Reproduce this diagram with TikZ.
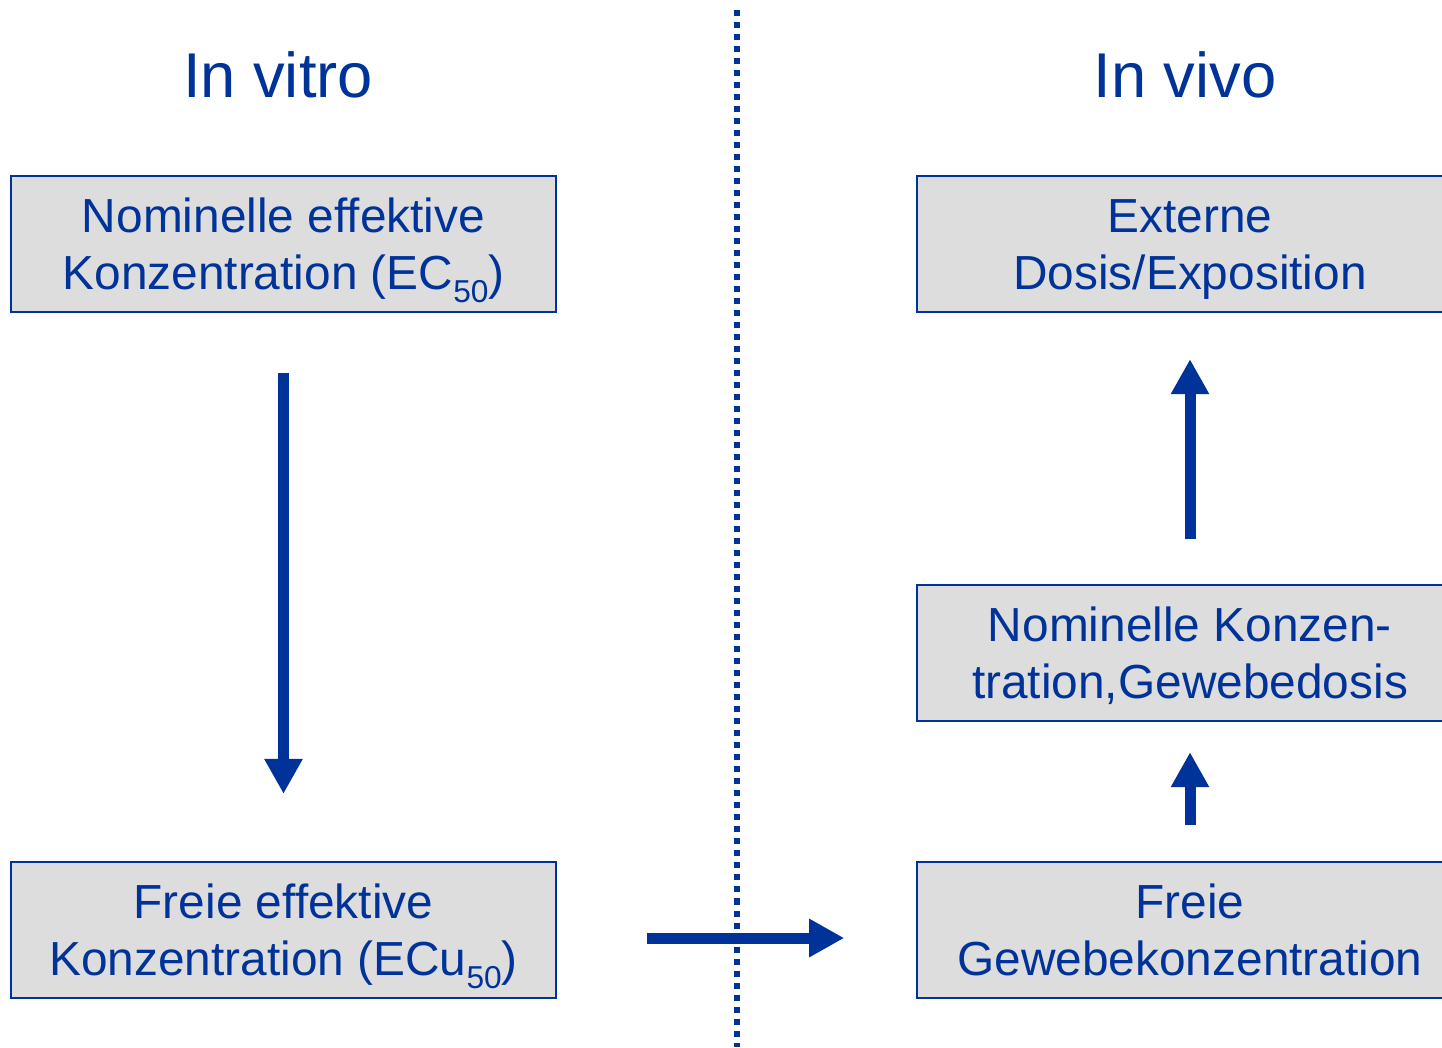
\documentclass[tikz,border=0pt]{standalone}
\usepackage{fontspec}
\setmainfont{Liberation Sans}
\usetikzlibrary{arrows.meta}
\definecolor{dblue}{RGB}{0,51,153}
\definecolor{boxgray}{RGB}{221,221,221}
\newcommand{\lowsub}[1]{\raisebox{-3.6pt}{\fontsize{9}{9}\selectfont #1}}
\begin{document}
\begin{tikzpicture}[x=0.01cm, y=-0.01cm,
    box/.style={draw=dblue, line width=0.6pt, fill=boxgray, minimum width=5.45cm,
        minimum height=1.36cm, align=center, text=dblue, inner sep=0pt,
        font=\fontsize{13.6}{16.2}\selectfont, text height=29.5pt, text depth=3.6pt},
    title/.style={text=dblue, font=\fontsize{18}{20}\selectfont},
    bigarrow/.style={dblue, line width=0.11cm, -{Triangle[width=0.36cm,length=0.35cm]}}]
            \useasboundingbox (0,0) rectangle (1442,1047);
            \draw[dblue, line width=0.06cm, dash pattern=on 0.06cm off 0.06cm] (737,10) -- (737,1047);

            \node[title] (vitro) at (278,75) {In vitro};
            \node[title] (vivo) at (1185,75) {In vivo};

            \node[box] (nomeff) at (283.5,244) {Nominelle effektive\\Konzentration (EC\lowsub{50})};
            \node[box] (freeff) at (283.5,930) {Freie effektive\\Konzentration (ECu\lowsub{50})};

            \node[box] (ext) at (1190,244) {Externe\\Dosis/Exposition};
            \node[box] (nomkon) at (1190,653) {Nominelle Konzen-\\tration,Gewebedosis};
            \node[box] (freige) at (1190,930) {Freie\\Gewebekonzentration};

            \draw[bigarrow, shorten <=0.6cm, shorten >=0.67cm] (nomeff.south) -- (freeff.north);
            \draw[bigarrow, shorten <=0.9cm, shorten >=0.72cm] ([yshift=-0.08cm]freeff.east) -- ([yshift=-0.08cm]freige.west);
            \draw[bigarrow, shorten <=0.36cm, shorten >=0.3cm] (freige.north) -- (nomkon.south);
            \draw[bigarrow, shorten <=0.45cm, shorten >=0.46cm] (nomkon.north) -- (ext.south);
        \end{tikzpicture}
\end{document}
